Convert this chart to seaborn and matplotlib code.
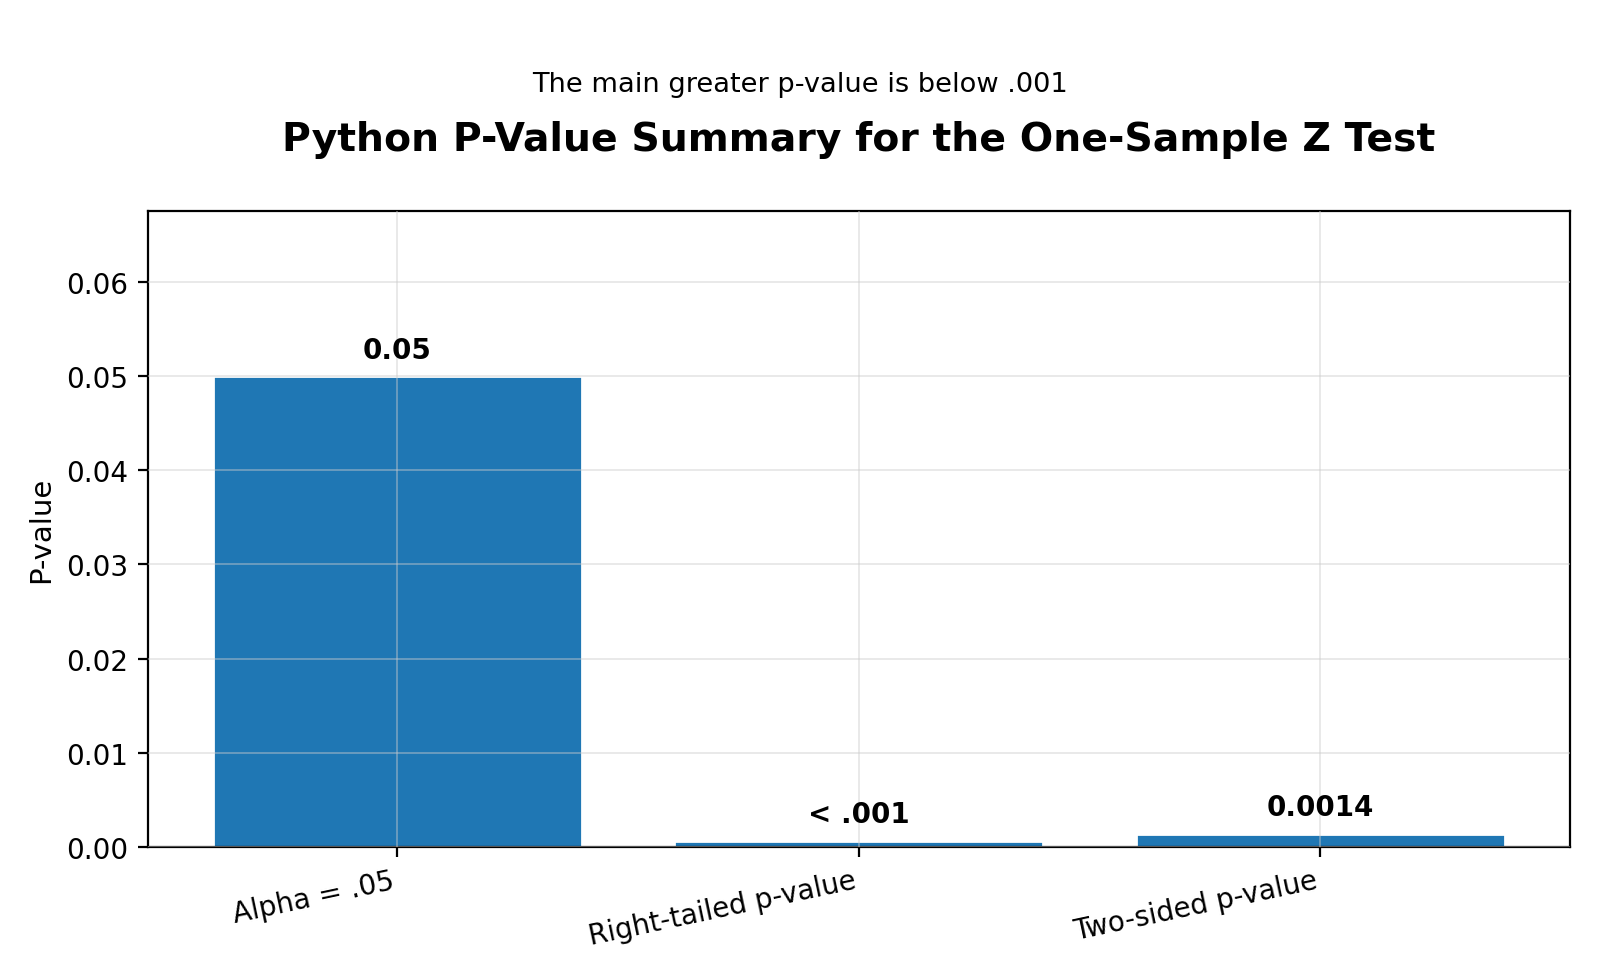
import matplotlib
matplotlib.use("Agg")
import matplotlib.pyplot as plt
import seaborn as sns
import pandas as pd

# chart data
labels = ["Alpha = .05", "Right-tailed p-value", "Two-sided p-value"]
p_values = [0.05, 0.00065, 0.0014]
value_text = ["0.05", "< .001", "0.0014"]

sns.set_style("white")
plt.rcParams["font.family"] = ["DejaVu Sans"]
plt.rcParams["text.color"] = "black"
plt.rcParams["axes.labelcolor"] = "black"
plt.rcParams["xtick.color"] = "black"
plt.rcParams["ytick.color"] = "black"

df = pd.DataFrame({"label": labels, "p": p_values})

fig = plt.figure(figsize=(8, 4.89), dpi=200)
ax = fig.add_axes([0.0925, 0.133, 0.8885, 0.65])

sns.barplot(data=df, x="label", y="p", color="#1f77b4", saturation=1,
            width=0.8, ax=ax)

# value labels above the bars
for i, (v, t) in enumerate(zip(p_values, value_text)):
    ax.annotate(t, (i, v), xytext=(0, 4.5), textcoords="offset points",
                ha="center", va="bottom", fontsize=10, fontweight="bold")

ax.set_ylim(0, 0.0675)
ax.set_xlim(-0.54, 2.54)
ax.grid(True, color="#cccccc", alpha=0.5, linewidth=0.6)
ax.set_axisbelow(False)
for s in ax.spines.values():
    s.set_linewidth(0.8)
    s.set_color("black")

ax.tick_params(axis="both", which="both", length=3.5, width=0.8,
               labelsize=10, direction="out", bottom=True, left=True)
plt.setp(ax.get_xticklabels(), rotation=12, ha="right")

ax.set_xlabel("")
ax.set_ylabel("P-value", fontsize=10.5)

ax.set_title("Python P-Value Summary for the One-Sample Z Test",
             fontsize=14.2, fontweight="bold", pad=22)
fig.text(0.5, 0.913, "The main greater p-value is below .001",
         ha="center", va="center", fontsize=9.8)

fig.savefig("out.png", dpi=200)
